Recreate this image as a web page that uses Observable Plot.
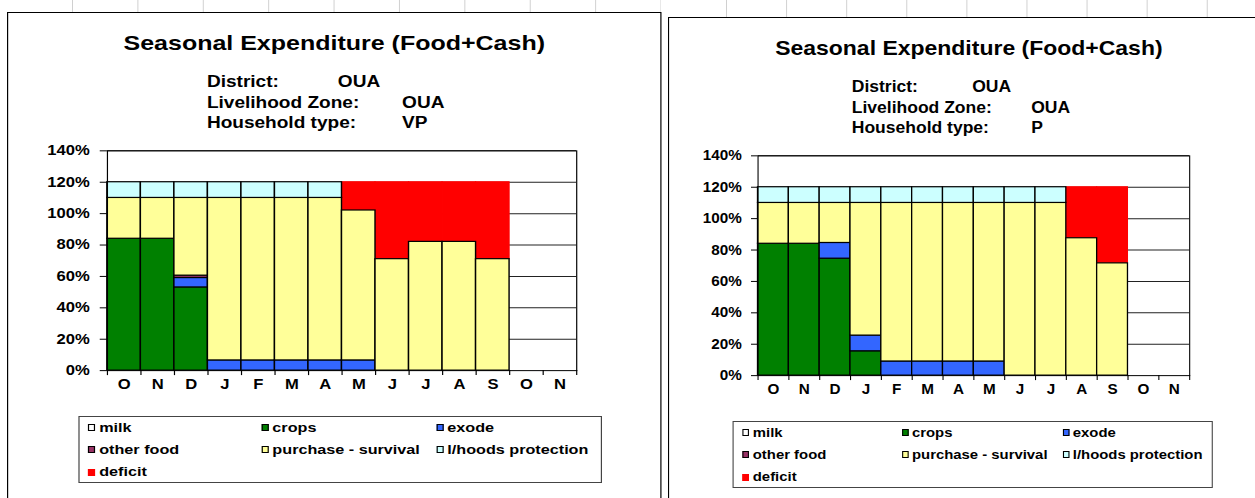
<!DOCTYPE html>
<html>
<head>
<meta charset="utf-8">
<script src="https://cdn.jsdelivr.net/npm/d3@7"></script>
<script src="https://cdn.jsdelivr.net/npm/@observablehq/plot@0.6"></script>
<style>
  html, body { margin: 0; padding: 0; width: 1255px; height: 498px; overflow: hidden; background: #fff; }
  body { position: relative; font-family: "Liberation Sans", Arial, sans-serif; color: #000; }
  .strip { position: absolute; top: 0; height: 22px; background-image: linear-gradient(to right, #d0d0d0 1px, transparent 1px); background-repeat: repeat-x; }
  .panel { position: absolute; transform-origin: 0 0; width: 550px; height: 540px; border: 1px solid #000; background: #fff; box-sizing: border-box; }
  .txt { position: absolute; white-space: nowrap; font-weight: bold; line-height: 1; }
  .legend { position: absolute; border: 1px solid #444; box-sizing: border-box; }
  .sw { position: absolute; width: 6px; height: 7px; border: 1px solid #000; box-sizing: border-box; }
  .panel svg { position: absolute; left: 0; overflow: visible; }
</style>
</head>
<body>
<div class="strip" style="left:72px;width:589px;background-size:65.4px 22px;"></div>
<div class="strip" style="left:726px;width:529px;background-size:60.1px 22px;"></div>
<div id="root"></div>
<script>
// ---- shared categories / series ----
const months = ["O","N","D","J","F","M","A","M","J","J","A","S","O","N"];
const seriesNames = ["milk","crops","exode","other food","purchase - survival","l/hoods protection","deficit"];
const seriesColors = ["#FFFFFF","#008000","#3366FF","#993366","#FFFF99","#CCFFFF","#FF0000"];
const yTicks = [0,20,40,60,80,100,120,140];
const chartTitle = "Seasonal Expenditure (Food+Cash)";
const infoLabels = ["District:","Livelihood Zone:","Household type:"];

// ---- household type VP (left chart), % of needs, months O..S ----
const vpInfo      = ["OUA","OUA","VP"];
const vpMilk      = [0,0,0,0,0,0,0,0,0,0,0,0];
const vpCrops     = [84,84,53,0,0,0,0,0,0,0,0,0];
const vpExode     = [0,0,6,6.5,6.5,6.5,6.5,6.5,0,0,0,0];
const vpOtherFood = [0,0,1.5,0,0,0,0,0,0,0,0,0];
const vpPurchase  = [26,26,49.5,103.5,103.5,103.5,103.5,95.5,71,82,82,71];
const vpLhoods    = [10,10,10,10,10,10,10,0,0,0,0,0];
const vpDeficit   = [0,0,0,0,0,0,0,18,49,38,38,49];

// ---- household type P (right chart) ----
const pInfo      = ["OUA","OUA","P"];
const pMilk      = [0,0,0,0,0,0,0,0,0,0,0,0];
const pCrops     = [84,84,74.5,15.5,0,0,0,0,0,0,0,0];
const pExode     = [0,0,10,10,9,9,9,9,0,0,0,0];
const pOtherFood = [0,0,0,0,0,0,0,0,0,0,0,0];
const pPurchase  = [26,26,25.5,84.5,101,101,101,101,110,110,87.5,71.5];
const pLhoods    = [10,10,10,10,10,10,10,10,10,10,0,0];
const pDeficit   = [0,0,0,0,0,0,0,0,0,0,32.5,48.5];

function stackRows(seriesArrays) {
  const rows = [];
  const n = seriesArrays[0].length;
  for (let i = 0; i < n; i++) {
    let cum = 0;
    seriesArrays.forEach((arr, k) => {
      const v = arr[i];
      if (v > 0) rows.push({x1: i, x2: i + 1, y1: cum, y2: cum + v, series: seriesNames[k]});
      cum += v;
    });
  }
  return rows;
}

function addText(parent, str, x, baseline, fs, anchor) {
  const el = document.createElement("div");
  el.className = "txt";
  el.textContent = str;
  el.style.fontSize = fs + "px";
  el.style.top = (baseline - 0.8465 * fs) + "px";
  if (anchor === "middle") { el.style.left = "0"; el.style.width = "100%"; el.style.textAlign = "center"; }
  else el.style.left = x + "px";
  parent.appendChild(el);
  return el;
}

function drawPanel(cfg) {
  const panel = document.createElement("div");
  panel.className = "panel";
  panel.style.left = cfg.left + "px";
  panel.style.top = cfg.top + "px";
  panel.style.transform = `scaleX(${cfg.sx})`;
  document.getElementById("root").appendChild(panel);

  // title + info block
  addText(panel, chartTitle, 0, 36.8, 21, "middle");
  const base = [75, 95.5, 116];
  infoLabels.forEach((lab, i) => addText(panel, lab, 167, base[i], 16));
  addText(panel, cfg.info[0], 277, base[0], 16);
  addText(panel, cfg.info[1], 331, base[1], 16);
  addText(panel, cfg.info[2], 331, base[2], 16);

  // chart
  const rows = stackRows(cfg.series);
  const svgTop = 120, svgH = 280;
  const plotTop = 137.4, plotBottom = 358;
  const W = 550;
  const chart = Plot.plot({
    width: W,
    height: svgH,
    marginLeft: cfg.plotLeft,
    marginRight: W - cfg.plotRight,
    marginTop: plotTop - svgTop,
    marginBottom: svgTop + svgH - plotBottom,
    style: {fontFamily: "'Liberation Sans', Arial, sans-serif", fontSize: "14px", fontWeight: "bold", color: "#000", background: "transparent", overflow: "visible"},
    x: {type: "linear", domain: [0, months.length], axis: null},
    y: {type: "linear", domain: [0, 140], axis: null},
    color: {type: "ordinal", domain: seriesNames, range: seriesColors},
    marks: [
      Plot.ruleY(yTicks.slice(1), {stroke: "#222", strokeWidth: 1}),
      Plot.rect(rows.filter(d => d.series === "deficit"), {x1: "x1", x2: "x2", y1: "y1", y2: "y2", fill: "series", stroke: seriesColors[6], strokeWidth: 1}),
      Plot.rect(rows.filter(d => d.series !== "deficit"), {x1: "x1", x2: "x2", y1: "y1", y2: "y2", fill: "series", stroke: "#000", strokeWidth: 1.2}),
      Plot.frame({stroke: "#000", strokeWidth: 1}),
      Plot.axisY({ticks: yTicks, tickSize: 6, tickPadding: 9, tickFormat: d => d + "%", stroke: "#000"}),
      Plot.axisX({ticks: d3.range(months.length + 1), tickSize: 5, tickFormat: () => "", stroke: "#000"}),
      Plot.text(months, {x: (d, i) => i + 0.5, text: d => d, frameAnchor: "bottom", dy: 18.2, fill: "#000"})
    ]
  });
  chart.style.top = svgTop + "px";
  panel.appendChild(chart);

  // legend
  const lg = document.createElement("div");
  lg.className = "legend";
  lg.style.left = cfg.legLeft + "px";
  lg.style.width = (cfg.legRight - cfg.legLeft) + "px";
  lg.style.top = "403px";
  lg.style.height = "67px";
  panel.appendChild(lg);
  const colX = [67, 212.5, 359.5];
  const rowB = [419.7, 441.3, 464];
  seriesNames.forEach((name, k) => {
    const c = k % 3, r = Math.floor(k / 3);
    const sw = document.createElement("div");
    sw.className = "sw";
    sw.style.background = seriesColors[k];
    if (name === "deficit") sw.style.borderColor = seriesColors[k];
    sw.style.left = colX[c] + "px";
    sw.style.top = (rowB[r] - 8.5) + "px";
    panel.appendChild(sw);
    addText(panel, name, colX[c] + 9.5, rowB[r], 13.6);
  });
}

drawPanel({left: 7, top: 12, sx: 1.19, info: vpInfo,
  series: [vpMilk, vpCrops, vpExode, vpOtherFood, vpPurchase, vpLhoods, vpDeficit],
  plotLeft: 83.2, plotRight: 479, legLeft: 59, legRight: 499});
drawPanel({left: 668, top: 17, sx: 1.094, info: pInfo,
  series: [pMilk, pCrops, pExode, pOtherFood, pPurchase, pLhoods, pDeficit],
  plotLeft: 81.1, plotRight: 477.1, legLeft: 57.6, legRight: 497.3});
</script>
</body>
</html>
